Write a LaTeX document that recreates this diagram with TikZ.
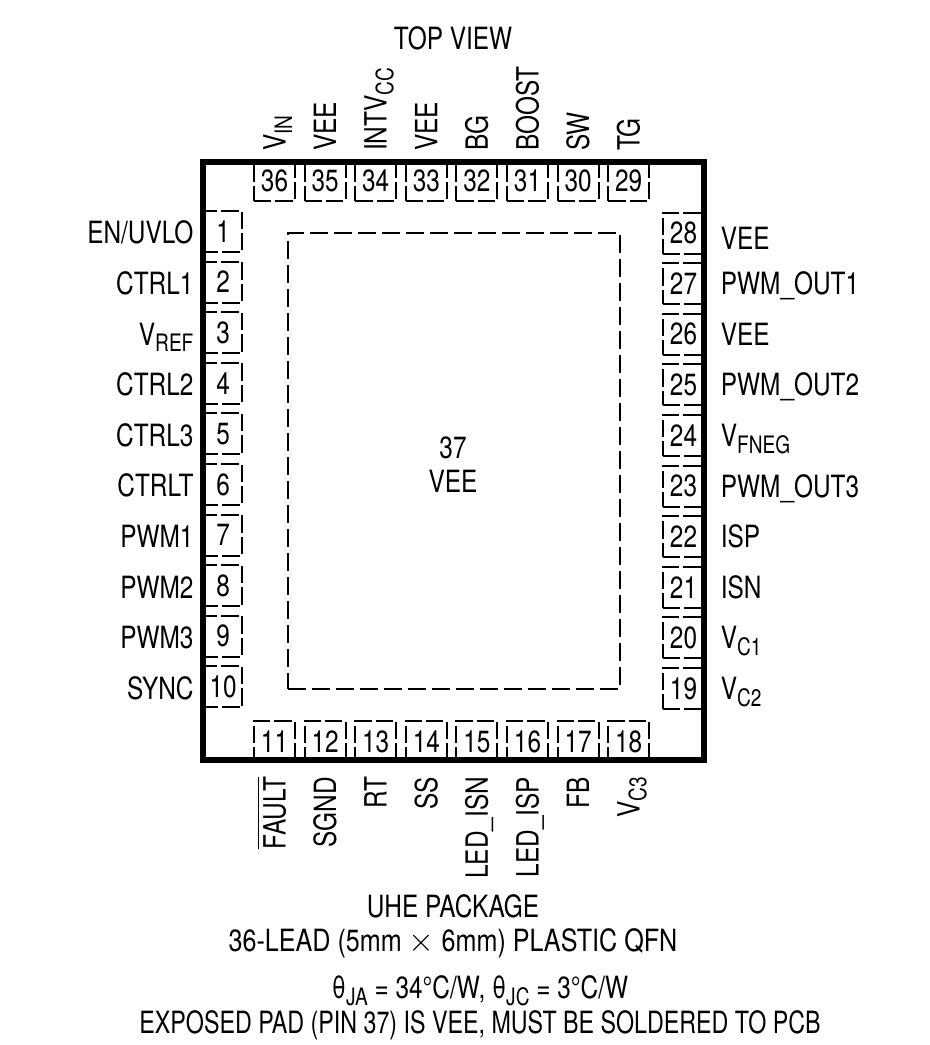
\documentclass[tikz,border=0pt]{standalone}
\usepackage{fontspec}
\usepackage{amsmath}
\setmainfont[FakeStretch=0.795]{TeX Gyre Heros}
\usetikzlibrary {positioning}
\newcommand{\pinsub}[1]{\raisebox{-5pt}{\fontsize{18pt}{18pt}\selectfont #1}}
\tikzset{package/.style={
    % The shape:
    rectangle,
    minimum width=375.75pt,
    minimum height=448.5pt,
    outer sep=0pt,
    },
    wall/.style={
    line width=4.5pt,
    },
    pad/.style={
    rectangle,
    minimum width=249pt,
    minimum height=342pt,
    line width=1.4pt,
    dash pattern=on 13.5pt off 4.5pt,
    draw=black,
    outer sep=0pt,
    },
    pinbox/.style={
    rectangle,
    minimum size=30.75pt,
    inner sep=0pt,
    outer sep=0pt,
    line width=1.4pt,
    dash pattern=on 13pt off 3pt,
    draw=black,
    },
    leftpin/.style={pinbox,execute at begin node=\hspace*{2.5pt}},
    pinlabel/.style={
    text height=16.5pt,
    text depth=0pt,
    inner ysep=0pt,
    outer sep=0pt,
    },
    leftlabel/.style={pinlabel,inner xsep=0pt,xshift=1.5pt,yshift=-1pt},
    rightlabel/.style={pinlabel,inner xsep=5.5pt},
    toplabel/.style={pinlabel,rotate=90,anchor=west,inner xsep=6.75pt},
    bottomlabel/.style={pinlabel,rotate=90,anchor=east,inner xsep=11.25pt},
    caption/.style={inner sep=0pt,outer sep=0pt},
}

\begin{document}
\begin{tikzpicture}[x=0.75pt,y=-0.75pt,node distance = 7.2pt and 7.2pt,
    every node/.append style={font=\fontsize{23pt}{25pt}\selectfont}]
    \useasboundingbox (0,0) rectangle (930,1045);
    \node (pkg)    [package] at (453.5,461) {};
    \node (thepad) [pad]     at (454,461)   {};
    \node (padnum) [caption] at (453,448)   {37};
    \node (padvee) [caption] at (453,481)   {VEE};

    % left side
    \node (pin1)  [leftpin,below right=36.75pt and -1.5pt of pkg.north west] {1};
    \node (pin2)  [leftpin,below=of pin1] {2};
    \node (pin3)  [leftpin,below=of pin2] {3};
    \node (pin4)  [leftpin,below=of pin3] {4};
    \node (pin5)  [leftpin,below=of pin4] {5};
    \node (pin6)  [leftpin,below=of pin5] {6};
    \node (pin7)  [leftpin,below=of pin6] {7};
    \node (pin8)  [leftpin,below=of pin7] {8};
    \node (pin9)  [leftpin,below=of pin8] {9};
    \node (pin10) [leftpin,below=of pin9] {10};
    \node (name1)  [leftlabel,left=of pin1]  {EN/UVLO};
    \node (name2)  [leftlabel,left=of pin2]  {CTRL1};
    \node (name3)  [leftlabel,left=of pin3]  {V\pinsub{REF}};
    \node (name4)  [leftlabel,left=of pin4]  {CTRL2};
    \node (name5)  [leftlabel,left=of pin5]  {CTRL3};
    \node (name6)  [leftlabel,left=of pin6]  {CTRLT};
    \node (name7)  [leftlabel,left=of pin7]  {PWM1};
    \node (name8)  [leftlabel,left=of pin8]  {PWM2};
    \node (name9)  [leftlabel,left=of pin9]  {PWM3};
    \node (name10) [leftlabel,left=of pin10] {SYNC};

    % bottom side
    \node (pin11) [pinbox,above right=-1.5pt and 38.25pt of pkg.south west] {11};
    \node (pin12) [pinbox,right=of pin11] {12};
    \node (pin13) [pinbox,right=of pin12] {13};
    \node (pin14) [pinbox,right=of pin13] {14};
    \node (pin15) [pinbox,right=of pin14] {15};
    \node (pin16) [pinbox,right=of pin15] {16};
    \node (pin17) [pinbox,right=of pin16] {17};
    \node (pin18) [pinbox,right=of pin17] {18};
    \node (name11) [bottomlabel] at (pin11.south) {$\overline{\mbox{FAULT}}$};
    \node (name12) [bottomlabel] at (pin12.south) {SGND};
    \node (name13) [bottomlabel] at (pin13.south) {RT};
    \node (name14) [bottomlabel] at (pin14.south) {SS};
    \node (name15) [bottomlabel] at (pin15.south) {LED\_ISN};
    \node (name16) [bottomlabel] at (pin16.south) {LED\_ISP};
    \node (name17) [bottomlabel] at (pin17.south) {FB};
    \node (name18) [bottomlabel] at (pin18.south) {V\pinsub{C3}};

    % right side
    \node (pin19) [pinbox,above left=38.25pt and 0pt of pkg.south east] {19};
    \node (pin20) [pinbox,above=of pin19] {20};
    \node (pin21) [pinbox,above=of pin20] {21};
    \node (pin22) [pinbox,above=of pin21] {22};
    \node (pin23) [pinbox,above=of pin22] {23};
    \node (pin24) [pinbox,above=of pin23] {24};
    \node (pin25) [pinbox,above=of pin24] {25};
    \node (pin26) [pinbox,above=of pin25] {26};
    \node (pin27) [pinbox,above=of pin26] {27};
    \node (pin28) [pinbox,above=of pin27] {28};
    \node (name19) [rightlabel,right=of pin19] {V\pinsub{C2}};
    \node (name20) [rightlabel,right=of pin20] {V\pinsub{C1}};
    \node (name21) [rightlabel,right=of pin21] {ISN};
    \node (name22) [rightlabel,right=of pin22] {ISP};
    \node (name23) [rightlabel,right=of pin23] {PWM\_OUT3};
    \node (name24) [rightlabel,right=of pin24] {V\pinsub{FNEG}};
    \node (name25) [rightlabel,right=of pin25] {PWM\_OUT2};
    \node (name26) [rightlabel,right=of pin26] {VEE};
    \node (name27) [rightlabel,right=of pin27] {PWM\_OUT1};
    \node (name28) [rightlabel,right=of pin28,yshift=-3.75pt] {VEE};

    % top side
    \node (pin36) [pinbox,below right=-1.5pt and 38.25pt of pkg.north west] {36};
    \node (pin35) [pinbox,right=of pin36] {35};
    \node (pin34) [pinbox,right=of pin35] {34};
    \node (pin33) [pinbox,right=of pin34] {33};
    \node (pin32) [pinbox,right=of pin33] {32};
    \node (pin31) [pinbox,right=of pin32] {31};
    \node (pin30) [pinbox,right=of pin31] {30};
    \node (pin29) [pinbox,right=of pin30] {29};
    \node (name36) [toplabel] at (pin36.north) {V\pinsub{IN}};
    \node (name35) [toplabel] at (pin35.north) {VEE};
    \node (name34) [toplabel] at (pin34.north) {INTV\pinsub{CC}};
    \node (name33) [toplabel] at (pin33.north) {VEE};
    \node (name32) [toplabel] at (pin32.north) {BG};
    \node (name31) [toplabel] at (pin31.north) {BOOST};
    \node (name30) [toplabel] at (pin30.north) {SW};
    \node (name29) [toplabel] at (pin29.north) {TG};

    % the wall goes over the open side of the pins
    \draw [wall] (pkg.north west) rectangle (pkg.south east);

    \node (topview) [caption] at (453,38)   {TOP VIEW};
    \node (uhe)     [caption] at (453,906)  {UHE PACKAGE};
    \node (lead)    [caption] at (453,943)  {\addfontfeature{FakeStretch=0.82}36-LEAD (5mm $\times$ 6mm) PLASTIC QFN};
    \node (theta)   [caption] at (480,991)  {θ\pinsub{JA} = 34°C/W, θ\pinsub{JC} = 3°C/W};
    \node (exposed) [caption] at (480,1025) {\addfontfeature{FakeStretch=0.758}EXPOSED PAD (PIN 37) IS VEE, MUST BE SOLDERED TO PCB};
\end{tikzpicture}
\end{document}
